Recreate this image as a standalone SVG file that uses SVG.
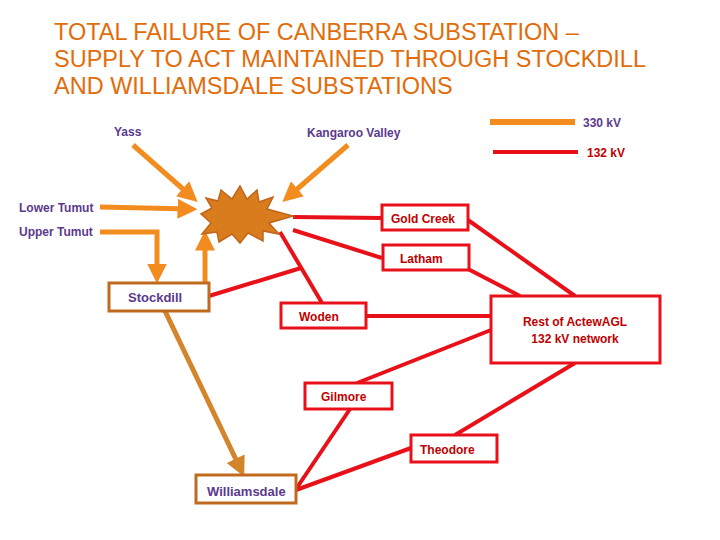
<svg xmlns="http://www.w3.org/2000/svg" width="720" height="540" viewBox="0 0 720 540">
<style>
text{font-family:"Liberation Sans",Arial,sans-serif;font-weight:bold}
.t{font-weight:normal;fill:#E36C0A;font-size:23.5px}
.p{fill:#5B3A8C;font-size:12px}
.r{fill:#C00000;font-size:12px}
.o{fill:none;stroke:#F28C1E;stroke-width:5}
.rl{fill:none;stroke:#E8111A;stroke-width:4}
.rb{fill:#fff;stroke:#E8111A;stroke-width:3}
.ob{fill:#fff;stroke:#C06A1E;stroke-width:3}
</style>
<defs>
<marker id="a" markerWidth="4" markerHeight="4" refX="2.5" refY="2" orient="auto"><path d="M0,0L4,2L0,4z" fill="#F28C1E"/></marker>
<marker id="b" markerWidth="4" markerHeight="4" refX="2.5" refY="2" orient="auto"><path d="M0,0L4,2L0,4z" fill="#D4842A"/></marker>
</defs>
<rect width="720" height="540" fill="#fff"/>
<text class="t" x="54" y="40">TOTAL FAILURE OF CANBERRA SUBSTATION –</text>
<text class="t" x="54" y="67">SUPPLY TO ACT MAINTAINED THROUGH STOCKDILL</text>
<text class="t" x="54" y="94">AND WILLIAMSDALE SUBSTATIONS</text>
<g id="legend">
<line x1="490" y1="122" x2="575" y2="122" stroke="#F28C1E" stroke-width="6"/>
<text class="p" x="583" y="127">330 kV</text>
<line x1="493" y1="152" x2="578" y2="152" stroke="#E8111A" stroke-width="4"/>
<text class="r" x="587" y="157">132 kV</text>
</g>
<g id="connectors">
<line class="rl" x1="293" y1="217" x2="382" y2="218"/>
<line class="rl" x1="293" y1="230" x2="382" y2="258"/>
<line class="rl" x1="280" y1="232" x2="322" y2="303"/>
<line class="rl" x1="209" y1="296" x2="301" y2="268"/>
<line class="rl" x1="468" y1="220" x2="575" y2="296"/>
<line class="rl" x1="468" y1="269" x2="520" y2="296"/>
<line class="rl" x1="366" y1="316" x2="491" y2="316"/>
<line class="rl" x1="491" y1="330" x2="357" y2="383"/>
<line class="rl" x1="575" y1="363" x2="455" y2="435"/>
<line class="rl" x1="350" y1="409" x2="296" y2="489"/>
<line class="rl" x1="411" y1="448" x2="296" y2="490"/>
<line class="o" x1="133" y1="145" x2="192" y2="197" marker-end="url(#a)"/>
<line class="o" x1="348" y1="145" x2="288" y2="197" marker-end="url(#a)"/>
<line class="o" x1="100" y1="207" x2="190" y2="209" marker-end="url(#a)"/>
<polyline class="o" points="100,232 157,232 157,276" marker-end="url(#a)"/>
<line class="o" x1="205" y1="283" x2="205" y2="238" marker-end="url(#a)"/>
<line x1="165" y1="311" x2="241" y2="470" stroke="#D4842A" stroke-width="5" marker-end="url(#b)"/>
</g>
<g id="canberra"><path d="M206,198 L218,201 L221,190 L232,199 L240,186 L247,199 L257,190 L259,202 L273,197 L267,209 L293,216 L269,223 L279,234 L263,231 L263,241 L248,233 L240,243 L232,234 L219,242 L217,232 L202,234 L211,223 L201,214 L212,208 Z" fill="#D97C1E" stroke="#C0651A" stroke-width="1.5"/></g>
<g id="yass"><text class="p" x="114" y="136">Yass</text></g>
<g id="kangaroo"><text class="p" x="307" y="137">Kangaroo Valley</text></g>
<g id="lowertumut"><text class="p" x="19" y="212">Lower Tumut</text></g>
<g id="uppertumut"><text class="p" x="19" y="236">Upper Tumut</text></g>
<g id="goldcreek"><rect class="rb" x="382" y="205" width="86" height="25"/><text class="r" x="391" y="223">Gold Creek</text></g>
<g id="latham"><rect class="rb" x="383" y="245" width="86" height="25"/><text class="r" x="400" y="263">Latham</text></g>
<g id="stockdill"><rect class="ob" x="109" y="283" width="100" height="28"/><text class="p" x="128" y="302" style="font-size:13px">Stockdill</text></g>
<g id="woden"><rect class="rb" x="281" y="303" width="85" height="25"/><text class="r" x="299" y="321">Woden</text></g>
<g id="rest"><rect class="rb" x="491" y="296" width="169" height="67"/><text class="r" x="575" y="326" text-anchor="middle">Rest of ActewAGL</text><text class="r" x="575" y="343" text-anchor="middle">132 kV network</text></g>
<g id="gilmore"><rect class="rb" x="305" y="383" width="87" height="26"/><text class="r" x="321" y="401">Gilmore</text></g>
<g id="theodore"><rect class="rb" x="411" y="435" width="86" height="27"/><text class="r" x="420" y="454">Theodore</text></g>
<g id="williamsdale"><rect class="ob" x="196" y="475" width="100" height="28"/><text class="p" x="207" y="496" style="font-size:13px">Williamsdale</text></g>
</svg>
